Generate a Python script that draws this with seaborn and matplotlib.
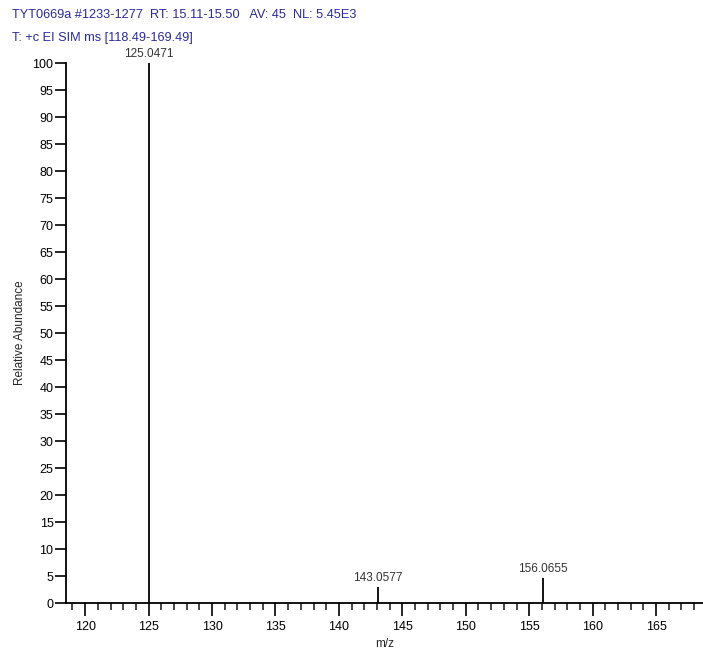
import matplotlib
matplotlib.use("Agg")
import matplotlib.pyplot as plt
import seaborn as sns
import numpy as np
from matplotlib.ticker import MultipleLocator

# Data
mz = [125.0471, 143.0577, 156.0655]
abundance = [100.0, 3.0, 4.7]
peak_labels = ["125.0471", "143.0577", "156.0655"]
header1 = "TYT0669a #1233-1277  RT: 15.11-15.50   AV: 45  NL: 5.45E3"
header2 = "T: +c EI SIM ms [118.49-169.49]"
x_label = "m/z"
y_label = "Relative Abundance"

sns.set_theme(style="ticks")
plt.rcParams['font.family'] = ['Liberation Sans', 'DejaVu Sans']

fig = plt.figure(figsize=(7.03, 6.49), dpi=100)
W, H = 703, 649
ax = fig.add_axes([66 / W, (H - 603.3) / H, (W - 66) / W, 540.3 / H])

ax.vlines(mz, 0, abundance, color="black", linewidth=1.3)
for x, y, lab in zip(mz, abundance, peak_labels):
    ax.text(x, y + 0.6, lab, ha="center", va="bottom", fontsize=8.5, color="#333333")

ax.set_xlim(118.49, 168.7)
ax.set_ylim(0, 100)
ax.xaxis.set_major_locator(MultipleLocator(5))
ax.xaxis.set_minor_locator(MultipleLocator(1))
ax.yaxis.set_major_locator(MultipleLocator(5))
ax.tick_params(axis="x", which="major", length=9, width=1.2, labelsize=9, pad=4, colors="black")
ax.tick_params(axis="x", which="minor", length=5, width=1.2)
ax.tick_params(axis="y", which="major", length=8, width=1.2, labelsize=9, pad=1, colors="black")
sns.despine(ax=ax)
for s in ["left", "bottom"]:
    ax.spines[s].set_linewidth(1.3)
    ax.spines[s].set_color("black")
ax.set_xlabel(x_label, fontsize=8.5, labelpad=3)
ax.set_ylabel(y_label, fontsize=8.5, labelpad=5)
ax.patch.set_visible(False)
ax.set_clip_on(False)

fig.text(12 / W, 1 - 15 / H, header1, fontsize=9.2, color="#2a2a9c", va="center", ha="left")
fig.text(12 / W, 1 - 37.5 / H, header2, fontsize=9.2, color="#2a2a9c", va="center", ha="left")

fig.savefig("out.png", dpi=100, facecolor="white")
